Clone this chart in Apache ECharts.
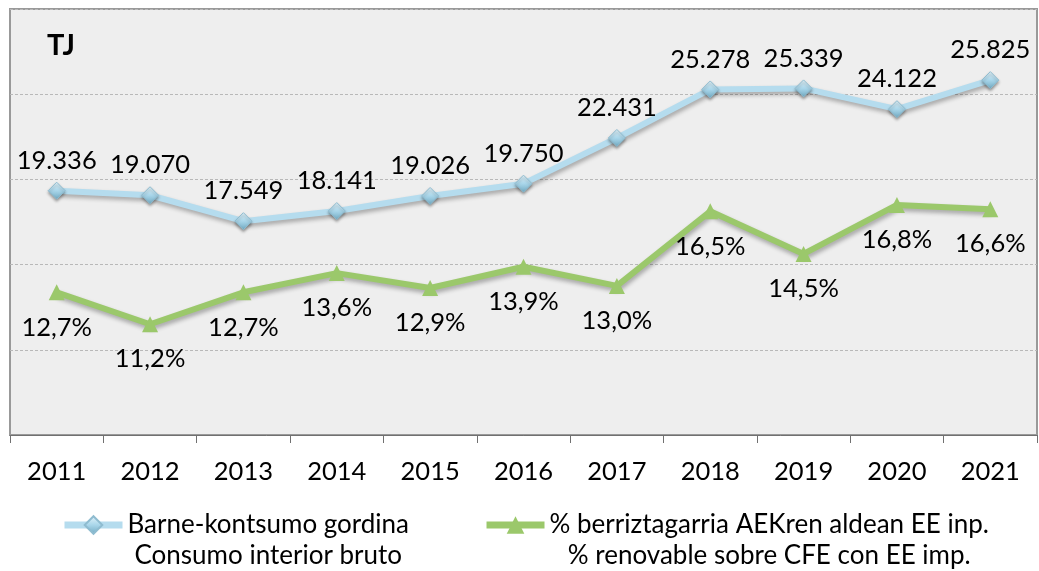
<!DOCTYPE html>
<html>
<head>
<meta charset="utf-8">
<script src="https://cdn.jsdelivr.net/npm/echarts@6/dist/echarts.min.js"></script>
<style>
  html, body { margin: 0; padding: 0; background: #fff; }
  #chart { width: 1039px; height: 571px; }
</style>
</head>
<body>
<div id="chart"></div>
<script>
// datos
const years = ['2011', '2012', '2013', '2014', '2015', '2016', '2017', '2018', '2019', '2020', '2021']
const consumo = [19336, 19070, 17549, 18141, 19026, 19750, 22431, 25278, 25339, 24122, 25825]
const renovable = [12.7, 11.2, 12.7, 13.6, 12.9, 13.9, 13.0, 16.5, 14.5, 16.8, 16.6]

const nameConsumo = 'Barne-kontsumo gordina\nConsumo interior bruto'
const nameRenov = '% berriztagarria AEKren aldean EE inp.\n% renovable sobre CFE con EE imp.'

const font = 'Lato, Carlito, "DejaVu Sans", sans-serif'

const fmtMiles = v => String(v).replace(/\B(?=(\d{3})+(?!\d))/g, '.')
const fmtPct = v => v.toFixed(1).replace('.', ',') + '%'

const chart = echarts.init(document.getElementById('chart'))

const option = {
  backgroundColor: '#fff',
  textStyle: { fontFamily: font, color: '#000' },
  grid: {
    left: 10, right: 2, top: 9, bottom: 136,
    show: true,
    backgroundColor: '#eeeeee',
    borderColor: '#999',
    borderWidth: 2
  },
  graphic: [
    {
      type: 'text', left: 47, top: 31,
      style: { text: 'TJ', font: 'bold 29px ' + font, fill: '#000' }
    }
  ],
  legend: {
    left: 56, top: 507,
    itemWidth: 58, itemHeight: 22, itemGap: 74,
    data: [nameConsumo, nameRenov],
    lineStyle: { width: 7 },
    formatter: name => name.split('\n').map(s => '{c|' + s + '}').join('\n'),
    textStyle: {
      fontFamily: font, fontSize: 26, color: '#000',
      padding: [31, 0, 0, 0],
      rich: { c: { align: 'center', fontSize: 26, lineHeight: 31, fontFamily: font, color: '#000' } }
    }
  },
  xAxis: {
    type: 'category',
    data: years,
    axisLine: { lineStyle: { color: '#707070', width: 1 } },
    axisTick: { show: true, length: 8, lineStyle: { color: '#707070' } },
    axisLabel: { fontSize: 25.5, color: '#000', margin: 24, fontFamily: font },
    splitLine: { show: false }
  },
  yAxis: [
    {
      type: 'value', min: 5000, max: 30000, interval: 5000,
      axisLabel: { show: false }, axisLine: { show: false }, axisTick: { show: false },
      splitLine: { lineStyle: { color: '#b8b8b8', type: [3, 2], width: 1 } }
    },
    {
      type: 'value', min: 6, max: 26,
      axisLabel: { show: false }, axisLine: { show: false }, axisTick: { show: false },
      splitLine: { show: false }
    }
  ],
  series: [
    {
      name: nameConsumo,
      type: 'line',
      data: consumo,
      yAxisIndex: 0,
      symbol: 'diamond',
      symbolSize: 17,
      lineStyle: {
        color: '#b5dcee', width: 6,
        shadowColor: 'rgba(0,0,0,0.3)', shadowBlur: 4, shadowOffsetX: 1, shadowOffsetY: 3
      },
      itemStyle: {
        color: new echarts.graphic.LinearGradient(0, 0, 0, 1, [
          { offset: 0, color: '#e6f5fb' },
          { offset: 0.5, color: '#a9d6ea' },
          { offset: 1, color: '#6fa8c0' }
        ]),
        borderColor: '#8fbcd0', borderWidth: 1,
        shadowColor: 'rgba(0,0,0,0.35)', shadowBlur: 3, shadowOffsetY: 2
      },
      label: {
        show: true, position: 'top', distance: 8,
        fontSize: 25.5, color: '#000', fontFamily: font,
        formatter: p => fmtMiles(p.value)
      },
      z: 3
    },
    {
      name: nameRenov,
      type: 'line',
      data: renovable,
      yAxisIndex: 1,
      symbol: 'triangle',
      symbolSize: 16,
      lineStyle: {
        color: '#9bc86b', width: 6,
        shadowColor: 'rgba(0,0,0,0.3)', shadowBlur: 4, shadowOffsetX: 1, shadowOffsetY: 3
      },
      itemStyle: { color: '#9bc86b', borderWidth: 0 },
      label: {
        show: true, position: 'bottom', distance: 14,
        fontSize: 25.5, color: '#000', fontFamily: font,
        formatter: p => fmtPct(p.value)
      },
      z: 2
    }
  ]
}

chart.setOption(option)
</script>
</body>
</html>
